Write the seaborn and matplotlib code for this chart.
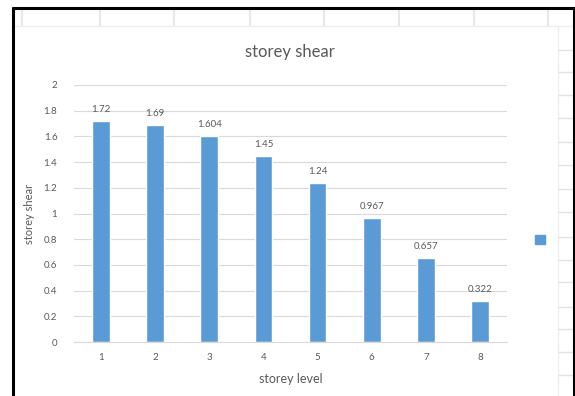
import matplotlib
matplotlib.use("Agg")
import matplotlib.pyplot as plt
from matplotlib.lines import Line2D
from matplotlib.patches import Patch
import seaborn as sns
import pandas as pd

# storey shear per storey level
levels = ["1", "2", "3", "4", "5", "6", "7", "8"]
shear = [1.72, 1.69, 1.604, 1.45, 1.24, 0.967, 0.657, 0.322]
value_labels = ["1.72", "1.69", "1.604", "1.45", "1.24", "0.967", "0.657", "0.322"]
y_ticks = [0, 0.2, 0.4, 0.6, 0.8, 1, 1.2, 1.4, 1.6, 1.8, 2]
y_tick_labels = ["0", "0.2", "0.4", "0.6", "0.8", "1", "1.2", "1.4", "1.6", "1.8", "2"]

df = pd.DataFrame({"storey level": levels, "storey shear": shear})

sns.set_theme(style="white")
plt.rcParams["font.family"] = ["Lato", "DejaVu Sans"]

BAR = "#5B9BD5"
TXT = "#595959"
GRID = "#D9D9D9"
W, H = 575, 396

fig = plt.figure(figsize=(W / 100, H / 100), dpi=100)
fig.patch.set_facecolor("white")

def fx(px):
    return px / W

def fy(py):
    return 1 - py / H

# worksheet cells around the chart object
cell = "#E3E3E3"
for x in [22, 100, 174, 250, 324, 399, 474, 548]:
    fig.add_artist(Line2D([fx(x), fx(x)], [fy(9), fy(26)], color=cell, lw=1.2))
fig.add_artist(Line2D([fx(14), fx(574)], [fy(26), fy(26)], color="#EEEEEE", lw=1.0))
fig.add_artist(Line2D([fx(558), fx(558)], [fy(26), fy(396)], color="#EEEEEE", lw=1.0))
for y in [50, 72, 95, 118, 142, 165, 189, 212, 237, 260, 282, 307, 329, 352, 375]:
    fig.add_artist(Line2D([fx(558), fx(573)], [fy(y), fy(y)], color=cell, lw=1.0))

# outer frame
fig.add_artist(Line2D([fx(13), fx(13)], [fy(8), 0], color="black", lw=2.2))
fig.add_artist(Line2D([fx(13), fx(574)], [fy(8), fy(8)], color="black", lw=2.2))
fig.add_artist(Line2D([fx(574), fx(574)], [fy(8), 0], color="black", lw=2.2))

ax = fig.add_axes([fx(74), fy(342), fx(507 - 74), (342 - 85) / H])
sns.barplot(data=df, x="storey level", y="storey shear", color=BAR,
            width=0.33, saturation=1, ax=ax)

ax.set_ylim(0, 2)
ax.set_xlim(-0.5, 7.5)
ax.set_yticks(y_ticks)
ax.set_yticklabels(y_tick_labels)
ax.yaxis.grid(True, color=GRID, lw=0.8)
ax.set_axisbelow(True)
for s in ["top", "right", "left"]:
    ax.spines[s].set_visible(False)
ax.spines["bottom"].set_color(GRID)
ax.spines["bottom"].set_linewidth(0.8)
ax.tick_params(axis="both", length=0, labelsize=7, colors=TXT, pad=8)
ax.tick_params(axis="y", pad=12)

ax.bar_label(ax.containers[0], labels=value_labels, padding=5,
             fontsize=7, color=TXT)

ax.set_xlabel("storey level", fontsize=9, color=TXT, labelpad=8)
ax.set_ylabel("storey shear", fontsize=8, color=TXT, labelpad=6)

fig.text(fx(290), fy(52), "storey shear", ha="center", va="center",
         fontsize=12, color=TXT)

ax.legend(handles=[Patch(color=BAR)], labels=[""], frameon=False,
          loc="center", bbox_to_anchor=(fx(540), fy(241)),
          bbox_transform=fig.transFigure, handlelength=0.6,
          handleheight=0.6, handletextpad=0.0, borderpad=0)

fig.savefig("out.png", dpi=100)
